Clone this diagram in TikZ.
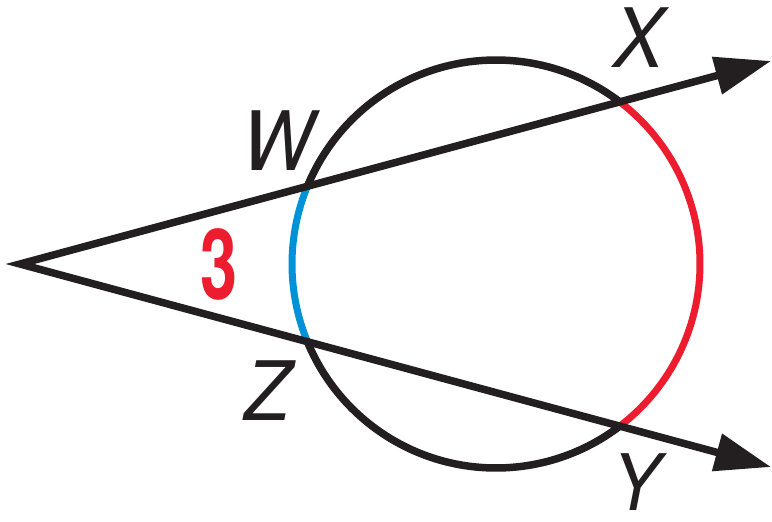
\documentclass[tikz,border=0pt]{standalone}
\usepackage{fontspec}
\setmainfont{TeX Gyre Heros}
\usetikzlibrary{arrows.meta}
\definecolor{ink}{RGB}{35,31,32}
\definecolor{arcred}{RGB}{237,28,46}
\definecolor{arcblue}{RGB}{0,146,214}
\begin{document}
\begin{tikzpicture}[x=1pt,y=-1pt,
  geo/.style={line width=7.5pt, draw=ink},
  colarc/.style={line width=7pt},
  bigtip/.tip={Triangle[length=56pt,width=37pt]},
  ray/.style={geo, line join=miter, bigtip-bigtip},
  lbl/.style={font=\fontsize{82}{82}\selectfont\itshape, text=ink, inner sep=0pt, anchor=center, xscale=0.92},
  num/.style={font=\fontsize{98}{98}\selectfont\bfseries, text=arcred, inner sep=0pt, anchor=center, xscale=0.68}]
\useasboundingbox (0,0) rectangle (772,522);
\coordinate (C) at (496,264);
\coordinate (V) at (20,264);
\coordinate (TX) at (771,61);
\coordinate (TY) at (771,467);
\path (C) ++(202.4:204) coordinate (W);
\path (C) ++(157.6:204) coordinate (Z);
\path (C) ++(-52.65:204) coordinate (X);
\path (C) ++(52.65:204) coordinate (Y);
% circle arcs
\draw[colarc, draw=arcblue] (W) arc[start angle=202.4, end angle=157.6, radius=204];
\draw[colarc, draw=arcred] (X) arc[start angle=-52.65, end angle=52.65, radius=204];
\draw[geo] (Y) arc[start angle=52.65, end angle=157.6, radius=204];
\draw[geo] (W) arc[start angle=202.4, end angle=307.35, radius=204];
% rays
\draw[ray] (TX) -- (V) -- (TY);
% labels
\node[lbl] (lW) at (278,141) {W};
\node[lbl] (lX) at (639,38) {X};
\node[lbl] (lZ) at (268,391) {Z};
\node[lbl, font=\fontsize{78}{78}\selectfont\itshape] (lY) at (636,482) {Y};
\node[num] (n3) at (219.5,264) {3};
\end{tikzpicture}
\end{document}
